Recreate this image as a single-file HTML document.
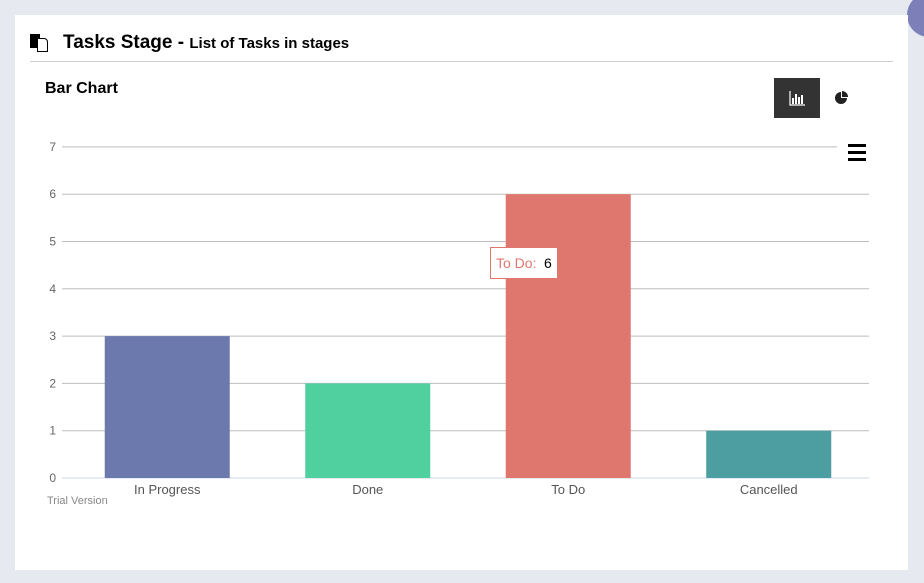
<!DOCTYPE html>
<html><head><meta charset="utf-8"><style>
body{margin:0;width:924px;height:583px;background:#e6e9ef;font-family:"Liberation Sans",sans-serif;overflow:hidden;position:relative}
.card{position:absolute;left:15px;top:15px;width:893px;height:555px;background:#fff}
</style></head><body>
<div style="position:absolute;left:907px;top:-7px;width:44px;height:44px;border-radius:50%;background:#7d7fb8"></div>
<div class="card">
<div style="position:absolute;left:15px;top:19px;width:10px;height:14px;background:#000"></div>
<div style="position:absolute;left:22px;top:23px;width:9px;height:12px;background:#fff;border:1.5px solid #000;border-radius:0 4px 0 0"></div>
<div style="position:absolute;left:48px;top:17px;font-size:19px;font-weight:bold;color:#000">Tasks Stage - <span style="font-size:15px">List of Tasks in stages</span></div>
<div style="position:absolute;left:15px;top:46px;width:863px;height:1px;background:#d0d0d0"></div>
<div style="position:absolute;left:30px;top:65px;font-size:16px;font-weight:bold;color:#000">Bar Chart</div>
<div style="position:absolute;left:759px;top:63px;width:46px;height:40px;background:#333">
<svg width="46" height="40"><path d="M16 13v14h15" stroke="#fff" fill="none" stroke-width="1.2"/><rect x="18" y="20" width="2" height="6" fill="#fff"/><rect x="21" y="16" width="2" height="10" fill="#fff"/><rect x="24" y="19" width="2" height="7" fill="#fff"/><rect x="27" y="17" width="2" height="9" fill="#fff"/></svg></div>
<div style="position:absolute;left:815px;top:72px;width:24px;height:24px">
<svg width="24" height="24"><path d="M11 5a6 6 0 1 0 6 6h-6z" fill="#222"/><path d="M12 4a6 6 0 0 1 6 6h-6z" fill="#222"/></svg></div>
</div>
<svg id="chart" width="924" height="583" style="position:absolute;left:0;top:0"></svg>
<script>
const categories=["In Progress","Done","To Do","Cancelled"];
const values=[3,2,6,1];
const colors=["#6c79ad","#50cf9f","#e0776e","#4d9ea0"];
const ticks=[0,1,2,3,4,5,6,7];
const svg=document.getElementById('chart');
const NS='http://www.w3.org/2000/svg';
const x0=62,x1=869,y0=478,ppu=47.3;
const cx0=67,bw=200.5;
const yS=v=>y0-v*ppu;
function mk(t,a,txt){const e=document.createElementNS(NS,t);for(const k in a)e.setAttribute(k,a[k]);if(txt!=null)e.textContent=txt;svg.appendChild(e);return e;}
ticks.forEach(t=>{
 const g=mk('line',{x1:x0,x2:t==7?837:x1,y1:yS(t),y2:yS(t),stroke:t==0?'#ccd6eb':'#bdbdbd','stroke-width':1});
 
 
 const l=mk('text',{x:56,y:yS(t)+4,'text-anchor':'end','font-size':12,fill:'#666','font-family':'Liberation Sans'},t);
 
 
});
categories.forEach((c,i)=>{
 const cx=cx0+bw*(i+0.5);
 const r=mk('rect',{x:cx-62.5,y:yS(values[i]),width:125,height:values[i]*ppu,fill:colors[i]});
 
 
 const l=mk('text',{x:cx,y:494,'text-anchor':'middle','font-size':13,fill:'#555','font-family':'Liberation Sans'},c);
 
 
});
const tb=mk('rect',{x:490.5,y:247.5,width:67,height:31,fill:'#fff',stroke:'#e0776e','stroke-width':1});


const tt=mk('text',{x:496,y:268,'font-size':14,fill:'#e0776e','font-family':'Liberation Sans'},categories[2]+':');


const tv=mk('text',{x:544,y:268,'font-size':14,fill:'#000','font-family':'Liberation Sans'},values[2]);


const cr=mk('text',{x:47,y:504,'font-size':11,fill:'#888','font-family':'Liberation Sans'},'Trial Version');


[144,151,158].forEach(y=>{const m=mk('rect',{x:848,y:y,width:18,height:3,fill:'#000'});
 
 });
</script>
</body></html>
